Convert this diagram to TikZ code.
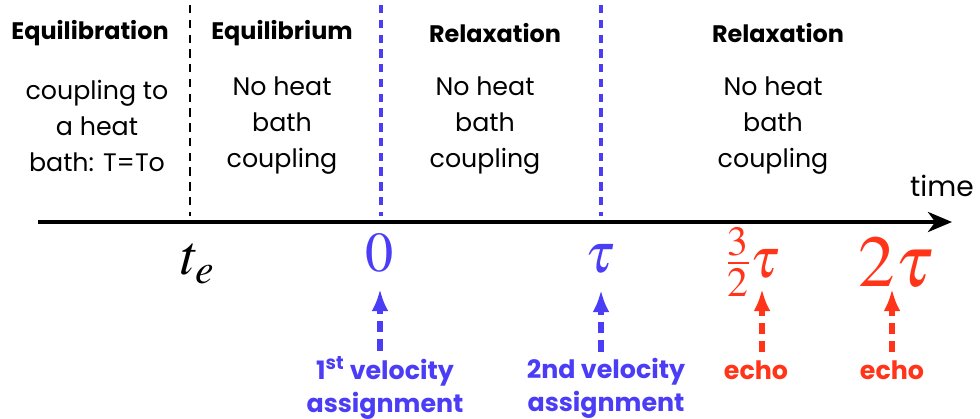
\documentclass[tikz,border=0pt]{standalone}
\usepackage{mathptmx}
\usepackage{fontspec}
\setmainfont{Poppins}
\usetikzlibrary{arrows.meta, positioning}
\definecolor{vblue}{HTML}{4B3CF6}
\definecolor{ered}{HTML}{FF3418}
\tikzset{
  >=Stealth,
  head/.style={font=\fontsize{17}{22}\selectfont\bfseries, inner sep=0pt},
  phase/.style={font=\fontsize{18}{25.6}\selectfont, align=center, inner sep=0pt},
  tval/.style={font=\fontsize{40}{40}\selectfont, text=#1, inner sep=0pt},
  tval/.default=black,
  note/.style={font=\fontsize{18}{23.5}\selectfont\bfseries, text=#1, align=center, inner sep=0pt},
  kick/.style={draw=#1, line width=3.6pt, dash pattern=on 8pt off 5pt,
    -{Latex[length=5.5mm,width=4.2mm]}},
  border/.style={draw=#1, line width=1.1pt, dash pattern=on 6pt off 4.5pt},
  border/.default=black,
  axis/.style={line width=2.8pt, -{Stealth[length=6mm,width=5mm,inset=1.8mm]}}
}
\begin{document}
\begin{tikzpicture}[x=0.025cm,y=-0.025cm]
  \useasboundingbox (0,0) rectangle (980,419);
  % time axis and phase borders
  \coordinate (ax0) at (38,222);
  \coordinate (ax1) at (952,222);
  \coordinate (b1t) at (190,5);   \coordinate (b1b) at (190,216);
  \coordinate (b2t) at (381,5);   \coordinate (b2b) at (381,216);
  \coordinate (b3t) at (601,5);   \coordinate (b3b) at (601,216);
  \draw[border] (b1t) -- (b1b);
  \draw[border=vblue,line width=2.2pt] (b2t) -- (b2b);
  \draw[border=vblue,line width=2.2pt] (b3t) -- (b3b);
  \draw[axis] (ax0) -- (ax1);
  \node[phase,font=\fontsize{20}{24}\selectfont] (time) at (942,186) {time};

  \node[head] (h1) at (90,33) {Equilibration};
  \node[head] (h2) at (282,33) {Equilibrium};
  \node[head] (h3) at (495,33) {Relaxation};
  \node[head] (h4) at (778,33) {Relaxation};

  \node[phase] (p1) at (97,126) {coupling to\\a heat\\bath: T=To};
  \node[phase] (p2) at (282,126) {No heat\\bath\\coupling};
  \node[phase] (p3) at (485,126) {No heat\\bath\\coupling};
  \node[phase] (p4) at (773,126) {No heat\\bath\\coupling};

  % times on the axis
  \node[tval] (te) at (198,264) {$t_{e}$};
  \node[tval=vblue] (zero) at (380,253) {$0$};
  \node[tval=vblue] (tau) at (600,259) {$\tau$};
  \node[tval=ered] (tau32) at (753,262) {$\frac{3}{2}\tau$};
  \node[tval=ered,font=\fontsize{52}{52}\selectfont] (tau2) at (896,263) {$2\tau$};

  % what happens there
  \node[note=vblue] (v1) at (385,388) {1\textsuperscript{st} velocity\\assignment};
  \node[note=vblue] (v2) at (606,388) {2nd velocity\\assignment};
  \node[note=ered] (e1) at (756,370) {echo};
  \node[note=ered] (e2) at (892,370) {echo};

  \coordinate (k1) at (380,289);
  \coordinate (k2) at (601,290);
  \coordinate (k3) at (762,289);
  \coordinate (k4) at (892,289);
  \draw[kick=vblue] (v1.north -| k1) ++(0,-6) -- (k1);
  \draw[kick=vblue] (v2.north -| k2) ++(0,-6) -- (k2);
  \draw[kick=ered] (e1.north -| k3) ++(0,-8) -- (k3);
  \draw[kick=ered] (e2.north -| k4) ++(0,-8) -- (k4);
\end{tikzpicture}
\end{document}
